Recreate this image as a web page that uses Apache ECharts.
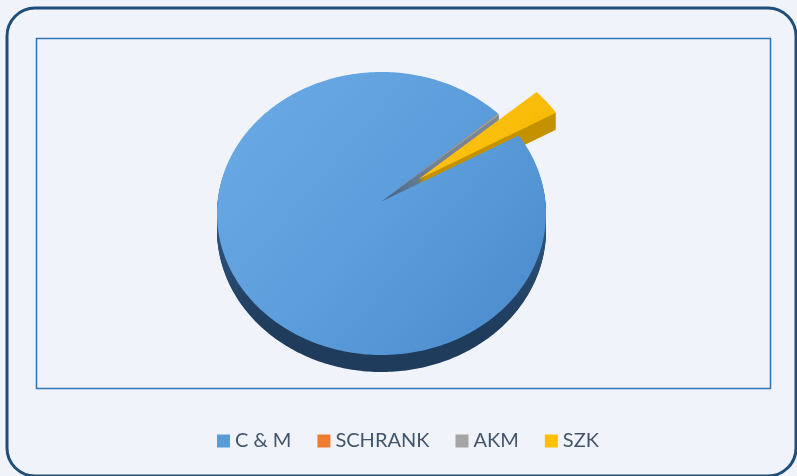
<!DOCTYPE html>
<html>
<head>
<meta charset="utf-8">
<script src="https://cdn.jsdelivr.net/npm/echarts@6/dist/echarts.min.js"></script>
<style>
  html, body { margin: 0; padding: 0; background: #f0f4fa; }
  #chart { width: 797px; height: 476px; }
</style>
</head>
<body>
<div id="chart"></div>
<script>
// slices, clockwise from the first slice angle
const categories = ['C & M', 'SCHRANK', 'AKM', 'SZK'];
const values = [96.83, 0.02, 0.15, 3.0];

const topColors = ['#5b9bd5', '#ed7d31', '#a5a5a5', '#ffc000'];
const sideColors = ['#1f3c5c', '#a2521c', '#7d8794', '#c49200'];

// 3d pie geometry (ellipse of the top face)
const cx = 381.5, cy = 213.5, rx = 164.5, ry = 141.5;
const depth = 17;
const apexDy = -12;      // perspective pulls the apex up a bit
const firstAngle = 33.5; // degrees, math convention
const explodeIndex = 3;
const explodeDist = 48;

const total = values.reduce((a, b) => a + b, 0);

function sliceAngles(i) {
  let before = 0;
  for (let k = 0; k < i; k++) before += values[k];
  const hi = firstAngle - before / total * 360;
  const lo = firstAngle - (before + values[i]) / total * 360;
  return [hi, lo];
}

function slicePoints(i, dy) {
  const [hi, lo] = sliceAngles(i);
  let ox = 0, oy = 0;
  if (i === explodeIndex) {
    const mid = (hi + lo) / 2 * Math.PI / 180;
    ox = explodeDist * Math.cos(mid);
    oy = -explodeDist * Math.sin(mid) * 0.75;
  }
  const pts = [[cx + ox, cy + apexDy + oy + dy]];
  const n = Math.max(2, Math.ceil(hi - lo) + 1);
  for (let s = 0; s < n; s++) {
    const t = (hi - (hi - lo) * s / (n - 1)) * Math.PI / 180;
    pts.push([cx + ox + rx * Math.cos(t), cy + oy + dy - ry * Math.sin(t)]);
  }
  return pts;
}

function renderSlice(i) {
  return function (params, api) {
    const children = [];
    let sideFill = sideColors[i];
    if (i === 0) {
      // cut face near the apex is lit, the outer wall is dark
      sideFill = new echarts.graphic.LinearGradient(0, 160, 0, 330, [
        { offset: 0, color: '#5079a6' },
        { offset: 0.35, color: '#2f5680' },
        { offset: 1, color: '#1f3c5c' }
      ], true);
    }
    for (let d = depth; d >= 1; d--) {
      children.push({
        type: 'polygon',
        z2: 1 + i,
        shape: { points: slicePoints(i, d) },
        style: { fill: sideFill, stroke: null }
      });
    }
    let fill = topColors[i];
    if (i === 0) {
      fill = new echarts.graphic.LinearGradient(0, 0, 1, 1, [
        { offset: 0, color: '#6cabe6' },
        { offset: 0.5, color: '#5c9ddb' },
        { offset: 1, color: '#4a8acb' }
      ]);
    } else if (i === 3) {
      fill = new echarts.graphic.LinearGradient(0, 0, 1, 1, [
        { offset: 0, color: '#ffc41a' },
        { offset: 1, color: '#f5b800' }
      ]);
    }
    children.push({
      type: 'polygon',
      z2: 20 + i,
      shape: { points: slicePoints(i, 0) },
      style: { fill: fill, stroke: null }
    });
    return { type: 'group', children: children };
  };
}

const chart = echarts.init(document.getElementById('chart'));

const option = {
  backgroundColor: '#f0f4fa',
  animation: false,
  graphic: [
    {
      type: 'rect',
      shape: { x: 7, y: 8, width: 789, height: 468, r: 28 },
      style: { fill: '#f0f4fa', stroke: '#1f4e79', lineWidth: 3 }
    },
    {
      type: 'rect',
      shape: { x: 36.5, y: 38.5, width: 734, height: 350 },
      style: { fill: 'transparent', stroke: '#2e75b6', lineWidth: 1.5 }
    }
  ],
  legend: {
    left: 217,
    top: 431,
    padding: 0,
    icon: 'rect',
    itemWidth: 13,
    itemHeight: 13,
    itemGap: 26,
    textStyle: { fontFamily: 'Lato', fontSize: 20, color: '#44546a' },
    data: categories
  },
  series: categories.map((name, i) => ({
    type: 'custom',
    name: name,
    coordinateSystem: 'none',
    itemStyle: { color: topColors[i] },
    renderItem: renderSlice(i),
    data: [[values[i]]]
  }))
};

chart.setOption(option);
</script>
</body>
</html>
